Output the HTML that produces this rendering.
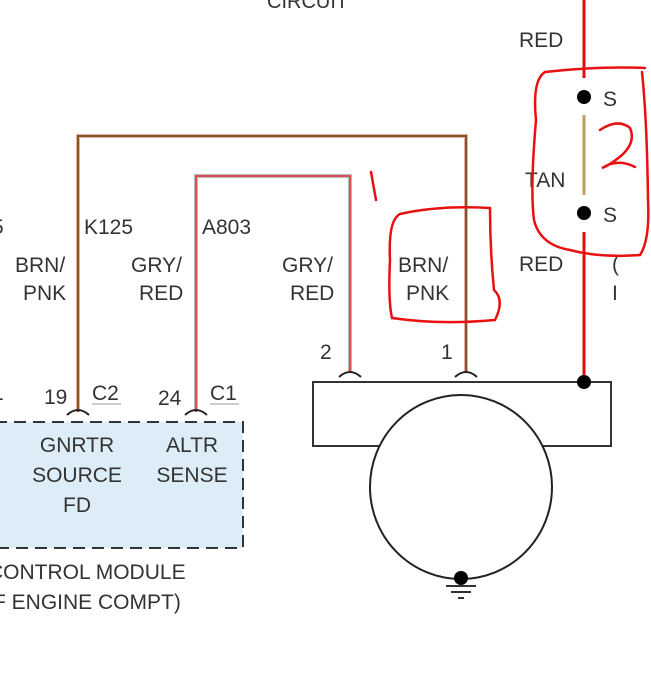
<!DOCTYPE html>
<html><head><meta charset="utf-8"><style>
html,body{margin:0;padding:0;background:#fff;width:651px;height:677px;overflow:hidden}
svg text{font-family:"Liberation Sans",sans-serif;fill:#333}
</style></head><body>
<svg width="651" height="677" viewBox="0 0 651 677" xmlns="http://www.w3.org/2000/svg">
<text x="267" y="8" font-size="20">CIRCUIT</text>
<rect x="-5" y="422" width="248" height="126" fill="#dcedf7" stroke="#333" stroke-width="2" stroke-dasharray="12,7"/>
<g font-size="21" text-anchor="middle">
<text x="77" y="452">GNRTR</text><text x="77" y="482">SOURCE</text><text x="77" y="512">FD</text>
<text x="192" y="452">ALTR</text><text x="192" y="482">SENSE</text>
</g>
<text x="-12" y="579" font-size="21">CONTROL MODULE</text>
<text x="-14" y="609" font-size="21">(F ENGINE COMPT)</text>
<path d="M78,412 V136 H466 V372" fill="none" stroke="#f0a8b0" stroke-width="4"/>
<path d="M78,412 V136 H466 V372" fill="none" stroke="#7a5c1a" stroke-width="2"/>
<path d="M196,412 V176 H350 V372" fill="none" stroke="#b8b8c0" stroke-width="4"/>
<path d="M196,412 V176 H350 V372" fill="none" stroke="#e83030" stroke-width="1.5"/>
<g fill="none" stroke="#222" stroke-width="2">
<path d="M67,415 Q78,405 89,415"/><path d="M185,415 Q196,405 207,415"/>
<path d="M339,377 Q350,367 361,377"/><path d="M455,377 Q466,367 477,377"/>
</g>
<g font-size="21">
<text x="44" y="404">19</text><text x="92" y="400">C2</text>
<text x="158" y="405">24</text><text x="210" y="400">C1</text>
<text x="-8" y="400">1</text>
<text x="320" y="359">2</text><text x="441" y="359">1</text>
<text x="84" y="234">K125</text><text x="-8" y="234">5</text>
<text x="202" y="234">A803</text>
<text x="15" y="272">BRN/</text><text x="23" y="300">PNK</text>
<text x="131" y="272">GRY/</text><text x="139" y="300">RED</text>
<text x="282" y="272">GRY/</text><text x="290" y="300">RED</text>
<text x="398" y="272">BRN/</text><text x="406" y="300">PNK</text>
<text x="519" y="47">RED</text><text x="519" y="271">RED</text>
<text x="525" y="187">TAN</text>
<text x="603" y="106">S</text><text x="603" y="222">S</text>
<text x="612" y="271">(</text><text x="612" y="300">I</text>
</g>
<line x1="92" y1="404" x2="121" y2="404" stroke="#999"/>
<line x1="210" y1="404" x2="239" y2="404" stroke="#999"/>
<rect x="313" y="382" width="298" height="64" fill="#fff" stroke="#333" stroke-width="2"/>
<ellipse cx="461" cy="487" rx="91" ry="92" fill="#fff" stroke="#222" stroke-width="2"/>
<circle cx="461" cy="578" r="7" fill="#000"/>
<line x1="446" y1="586" x2="476" y2="586" stroke="#333" stroke-width="2"/>
<line x1="451" y1="592" x2="471" y2="592" stroke="#333" stroke-width="2"/>
<line x1="458" y1="598" x2="464" y2="598" stroke="#333" stroke-width="2"/>
<line x1="584" y1="0" x2="584" y2="78" stroke="#e01010" stroke-width="3"/>
<line x1="584" y1="232" x2="584" y2="382" stroke="#e01010" stroke-width="3"/>
<line x1="584" y1="115" x2="584" y2="195" stroke="#b8a060" stroke-width="3"/>
<circle cx="584" cy="97" r="7" fill="#000"/>
<circle cx="584" cy="213" r="7" fill="#000"/>
<circle cx="584" cy="382" r="7" fill="#000"/>
<g fill="none" stroke="#e81010" stroke-width="2.5" stroke-linecap="round">
<path d="M371,172 L376,200"/>
<path d="M645,68 Q600,66 545,72 Q532,80 536,120 Q530,190 534,220 Q540,245 570,250 Q600,258 640,255 Q650,240 648,200 Q647,120 642,72"/>
<path d="M600,130 Q618,118 630,128 Q636,142 622,155 Q610,165 602,168 Q618,158 635,167"/>
<path d="M490,208 Q440,205 400,214 Q388,220 390,260 Q388,300 392,318 Q440,325 495,320 Q505,300 494,290 Q490,250 490,208"/>
</g>
</svg>
</body></html>
